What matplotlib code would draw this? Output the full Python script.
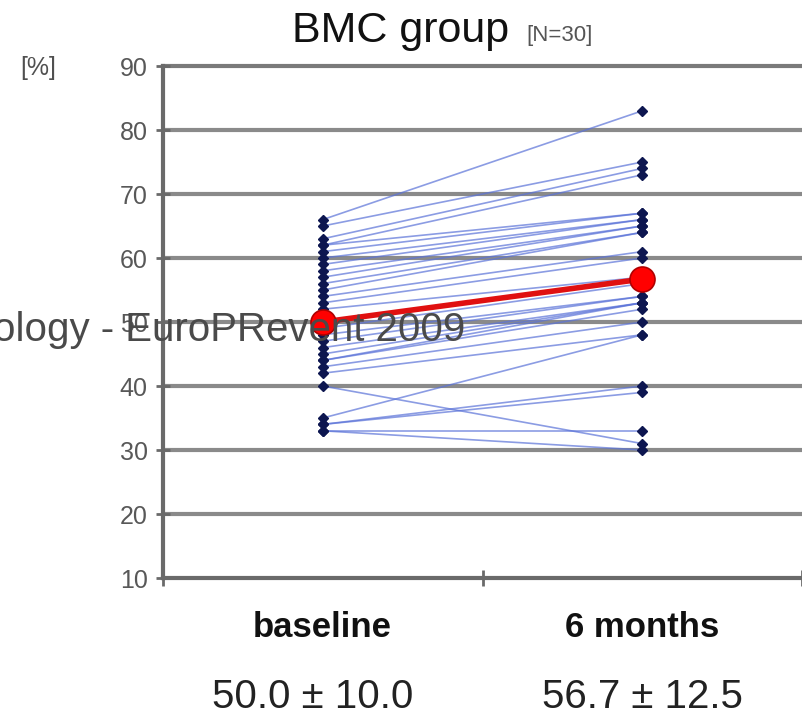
import matplotlib
matplotlib.use("Agg")
import matplotlib.pyplot as plt

categories = ["baseline", "6 months"]
stats_labels = ["50.0 \u00b1 10.0", "56.7 \u00b1 12.5"]
baseline = [66, 65, 63, 62, 62, 61, 60, 59, 58, 57, 56, 55, 54, 53, 52,
            49, 48, 47, 46, 45, 44, 44, 43, 42, 40, 35, 34, 34, 33, 33]
six_months = [83, 75, 74, 73, 67, 67, 66, 66, 65, 65, 64, 64, 61, 60, 57,
              56, 54, 54, 53, 53, 53, 52, 50, 48, 31, 48, 40, 39, 33, 30]
mean_values = [50.0, 56.7]
y_ticks = [10, 20, 30, 40, 50, 60, 70, 80, 90]

W, H = 802, 716
fig = plt.figure(figsize=(W / 100, H / 100), dpi=100)
ax = fig.add_axes([163 / W, 1 - 578 / H, 1 - 163 / W, (578 - 66) / H])

ax.set_xlim(-0.5, 1.5)
ax.set_ylim(10, 90)

# gridlines
for v in y_ticks[1:-1]:
    ax.axhline(v, color="#8a8a8a", lw=3, zorder=1)
ax.axhline(90, color="#7a7a7a", lw=3, zorder=1, clip_on=False)

xs = [0, 1]
for b, s in zip(baseline, six_months):
    ax.plot(xs, [b, s], color="#5a72d8", lw=1.2, alpha=0.7, zorder=2,
            solid_capstyle="butt")
    ax.plot(xs, [b, s], ls="none", marker="D", ms=5.5, color="#0d1650",
            mec="#0d1650", zorder=3)

ax.plot(xs, mean_values, color="#e01010", lw=4, zorder=4,
        marker="o", ms=18, mfc="#ff0000", mec="#b00000", mew=1.2)

for side in ["top", "right"]:
    ax.spines[side].set_visible(False)
for side in ["left", "bottom"]:
    ax.spines[side].set_color("#6a6a6a")
    ax.spines[side].set_linewidth(3)

ax.set_yticks(y_ticks)
ax.set_yticklabels([str(v) for v in y_ticks], fontsize=18, color="#585858",
                   family="Liberation Sans")
ax.tick_params(axis="y", direction="inout", length=10, width=2, color="#6a6a6a", pad=6)

ax.set_xticks([-0.5, 0.5, 1.5])
ax.set_xticklabels([])
ax.tick_params(axis="x", which="major", direction="inout", length=12, width=2, color="#6a6a6a")
ax.set_xticks(xs, minor=True)
ax.set_xticklabels(categories, minor=True, fontsize=25, fontweight="bold",
                   family="Liberation Sans", color="#111111")
ax.tick_params(axis="x", which="minor", length=0, pad=24)

# stats labels
for x, lab in zip(xs, stats_labels):
    xf = (163 + (x + 0.5) / 2 * (W - 163)) / W - (0.012 if x == 0 else 0)
    fig.text(xf, 1 - 697 / H, lab, ha="center", va="center", fontsize=29,
             family="Liberation Sans", color="#222222")

# title
fig.text(292 / W, 1 - 31 / H, "BMC group", ha="left", va="center", fontsize=31,
         family="Liberation Sans", color="#111111")
fig.text(526 / W, 1 - 35 / H, "[N=30]", ha="left", va="center", fontsize=16,
         family="Liberation Sans", color="#555555")

fig.text(20 / W, 1 - 68 / H, "[%]", ha="left", va="center", fontsize=18,
         family="Liberation Sans", color="#505050")

# watermark
fig.text(465 / W, 1 - 330 / H, "ology - EuroPRevent 2009", ha="right", va="center",
         fontsize=29, family="Liberation Sans", color="#4a4a4a", zorder=10)

fig.savefig("out.png", dpi=100)
